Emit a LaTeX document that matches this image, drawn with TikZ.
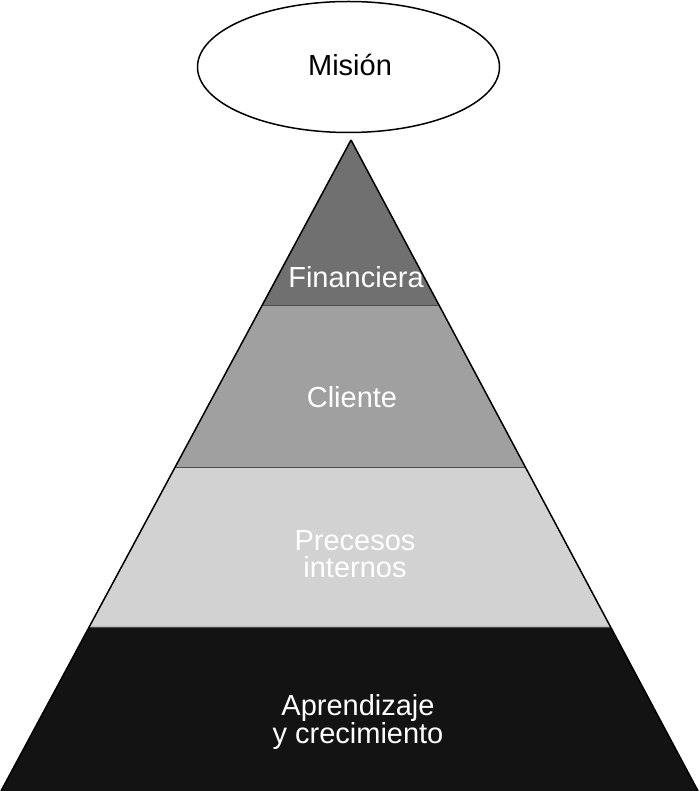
\documentclass[tikz,border=0pt]{standalone}
\usepackage{fontspec}
\setmainfont{Liberation Sans}
\usetikzlibrary{calc,shapes.geometric}
\definecolor{cfin}{HTML}{707070}
\definecolor{ccli}{HTML}{A0A0A0}
\definecolor{cpro}{HTML}{D2D2D2}
\definecolor{capr}{HTML}{131313}
\tikzset{
  lbl/.style={font=\fontsize{29}{27}\selectfont, text=white, align=center, inner sep=0pt},
  layer/.style={draw=black!70, line width=0.8pt},
}
\begin{document}
\begin{tikzpicture}[x=1pt,y=-1pt]
\useasboundingbox (0,0) rectangle (699,791);
\coordinate (A) at (351,140);
\coordinate (BL) at (1,791);
\coordinate (BR) at (698,791);
\coordinate (L1) at ($(A)!0.2535!(BL)$);
\coordinate (R1) at ($(A)!0.2535!(BR)$);
\coordinate (L2) at ($(A)!0.5023!(BL)$);
\coordinate (R2) at ($(A)!0.5023!(BR)$);
\coordinate (L3) at ($(A)!0.748!(BL)$);
\coordinate (R3) at ($(A)!0.748!(BR)$);
\fill[cfin] (A) -- (L1) -- (R1) -- cycle;
\fill[ccli] (L1) -- (L2) -- (R2) -- (R1) -- cycle;
\fill[cpro] (L2) -- (L3) -- (R3) -- (R2) -- cycle;
\fill[capr] (L3) -- (BL) -- (BR) -- (R3) -- cycle;
\draw[layer] (L1) -- (R1);
\draw[layer] (L2) -- (R2);
\draw[layer] (L3) -- (R3);
\draw[line width=1.5pt, line join=miter] (A) -- (BL) (A) -- (BR);
\node[ellipse, draw, line width=1.5pt, minimum width=302, minimum height=131, inner sep=0pt] (mision) at (348.5,67) {};
\node[font=\fontsize{29}{27}\selectfont, inner sep=0pt] (mtext) at (350,65) {Misión};
\node[lbl] (fin) at (356,277) {Financiera};
\node[lbl] (cli) at (352,397) {Cliente};
\node[lbl] (pro) at (355,554) {Precesos\\internos};
\node[lbl] (apr) at (358,722) {Aprendizaje\\y crecimiento};
\end{tikzpicture}
\end{document}
